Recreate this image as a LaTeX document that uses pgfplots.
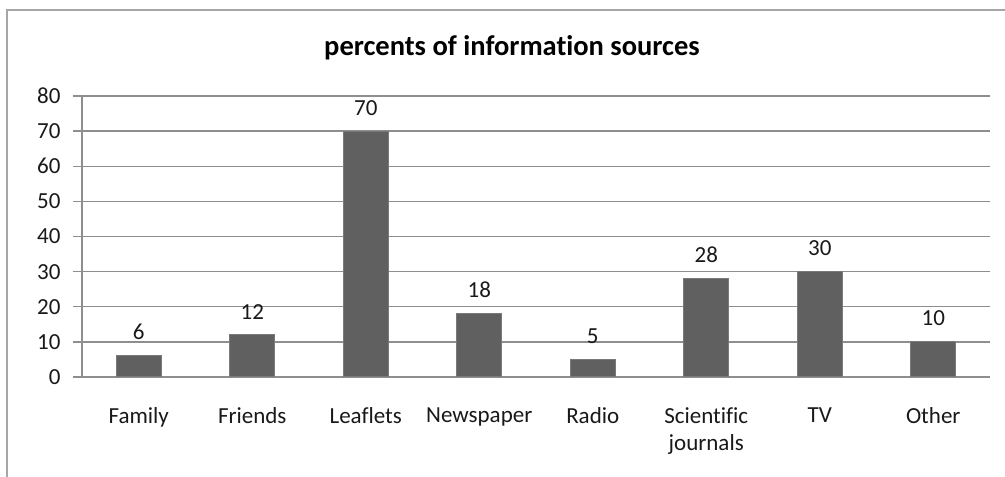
\documentclass[border=0pt]{standalone}
\usepackage{pgfplots}
\pgfplotsset{compat=1.18}
\usepackage{fontspec}
\setmainfont{Carlito}[Ligatures=NoCommon]
\definecolor{barc}{HTML}{606060}
\definecolor{bare}{HTML}{7A7A7A}
\definecolor{gridc}{HTML}{8E8E8E}
\definecolor{framec}{HTML}{A6A6A6}
\begin{document}
\begin{tikzpicture}[x=1pt,y=1pt]
\useasboundingbox (0,0) rectangle (1005,477);
\draw[framec,line width=1.5pt] (7,-5) -- (7,467) -- (1010,467);
\node[font=\fontsize{28.5}{33}\selectfont\bfseries,anchor=base] at (512,421) {percents of information sources};
\begin{axis}[
  scale only axis,
  width=908pt, height=281pt,
  at={(82pt,100pt)}, anchor=south west,
  ymin=0, ymax=80, ytick={0,10,...,80},
  xmin=-0.5, xmax=7.5,
  xtick={0,...,7},
  xticklabels={Family,Friends,Leaflets,Newspaper,Radio,{Scientific\\journals},TV,Other},
  extra x ticks={-0.5,0.5,...,7.5},
  extra x tick labels={},
  extra x tick style={major tick length=9pt, tick style={gridc,line width=1.3pt}, tick align=outside},
  major x tick style={draw=none},
  axis x line*=bottom, axis y line*=left,
  axis line style={gridc,line width=1.3pt,-},
  ytick style={gridc,line width=1.3pt},
  tick align=outside, major tick length=9pt,
  ymajorgrids, grid style={gridc,line width=1.3pt},
  /pgf/number format/assume math mode=true,
  ticklabel style={font=\fontsize{23}{27}\selectfont, text=black!90},
  xticklabel style={align=center, yshift=-18pt},
  yticklabel style={xshift=-9pt},
  ybar, bar width=45pt,
  nodes near coords,
  every node near coord/.append style={font=\fontsize{23}{27}\selectfont, text=black!90, yshift=12pt},
]
\addplot[fill=barc, draw=bare, line width=1pt] coordinates {(0,6) (1,12) (2,70) (3,18) (4,5) (5,28) (6,30) (7,10)};
\end{axis}
\end{tikzpicture}
\end{document}
